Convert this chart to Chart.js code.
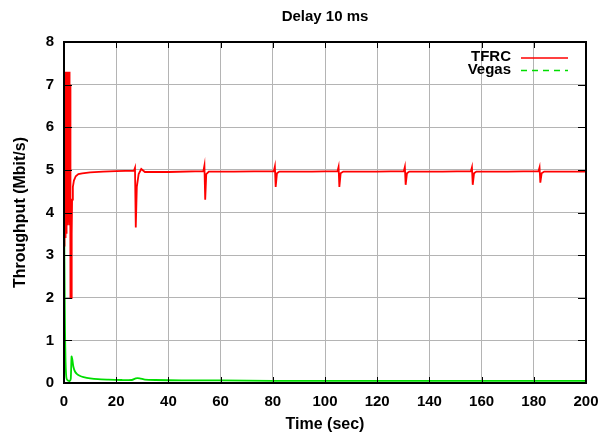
<!DOCTYPE html>
<html>
<head>
<meta charset="utf-8">
<script src="https://cdn.jsdelivr.net/npm/chart.js@4/dist/chart.umd.min.js"></script>
<style>
  body { margin: 0; background: #fff; }
  #delay_chart { display: block; }
</style>
</head>
<body>
<canvas id="delay_chart" width="604" height="436"></canvas>
<script>
// TFRC throughput samples (time in sec, Mbit/s)
const tfrcTime = [
  0.00, 0.06, 0.12, 0.18, 0.24, 0.30, 0.36, 0.42, 0.48, 0.54,
  0.60, 0.66, 0.72, 0.78, 0.84, 0.90, 0.96, 1.02, 1.08, 1.14,
  1.20, 1.26, 1.32, 1.38, 1.44, 1.50, 1.56, 1.62, 1.68, 1.74,
  1.80, 1.86, 1.92, 1.98, 2.04, 2.10, 2.16, 2.22, 2.28, 2.34,
  2.40, 2.55, 2.75, 2.95, 3.10, 3.40, 3.80, 4.50, 5.50, 7.00,
  10.0, 15.0, 20.0, 26.8, 27.2, 27.5, 27.9, 28.6, 29.6, 31.0,
  40.0, 53.4, 53.8, 54.1, 54.5, 55.5, 65.0, 80.4, 80.8, 81.1,
  81.6, 82.5, 95.0, 104.8, 105.2, 105.5, 106.0, 107.0, 120.0, 130.2,
  130.6, 130.9, 131.4, 132.3, 145.0, 155.9, 156.3, 156.6, 157.1, 158.0,
  170.0, 181.8, 182.2, 182.5, 183.0, 184.0, 200.0
];
const tfrcRate = [
  3.3, 6.9, 3.2, 7.1, 3.4, 7.2, 3.3, 7.0, 3.5, 7.3,
  3.4, 7.2, 3.6, 7.3, 3.5, 7.1, 3.7, 7.3, 3.6, 7.2,
  3.8, 7.3, 3.7, 7.2, 3.9, 7.3, 3.8, 7.1, 3.9, 7.3,
  3.8, 7.2, 4.0, 7.3, 3.9, 7.2, 3.8, 7.3, 3.7, 7.0,
  3.6, 2.0, 2.0, 3.5, 4.3, 4.6, 4.75, 4.85, 4.9, 4.92,
  4.94, 4.96, 4.97, 4.98, 5.05, 3.65, 4.6, 4.9, 5.02, 4.95,
  4.95, 4.97, 5.1, 4.3, 4.9, 4.96, 4.96, 4.97, 5.08, 4.6,
  4.92, 4.96, 4.96, 4.97, 5.07, 4.6, 4.92, 4.96, 4.96, 4.97,
  5.07, 4.65, 4.92, 4.96, 4.96, 4.97, 5.06, 4.65, 4.92, 4.96,
  4.96, 4.97, 5.06, 4.7, 4.92, 4.96, 4.96
];

// Vegas throughput samples
const vegasTime = [
  0.0, 0.1, 0.25, 0.4, 0.6, 0.8, 1.0, 1.5, 2.2, 2.6,
  2.9, 3.2, 3.6, 4.2, 5.0, 6.0, 7.5, 10.0, 13.0, 17.0,
  22.0, 26.0, 27.5, 29.0, 31.0, 35.0, 45.0, 60.0, 80.0, 100.0,
  200.0
];
const vegasRate = [
  5.0, 3.5, 2.2, 1.2, 0.5, 0.2, 0.1, 0.06, 0.05, 0.1,
  0.62, 0.55, 0.38, 0.27, 0.21, 0.17, 0.14, 0.11, 0.09, 0.08,
  0.07, 0.07, 0.11, 0.11, 0.08, 0.07, 0.06, 0.06, 0.05, 0.05,
  0.05
];

const xTicks = [0, 20, 40, 60, 80, 100, 120, 140, 160, 180, 200];
const yTicks = [0, 1, 2, 3, 4, 5, 6, 7, 8];

const seriesNames = ['TFRC', 'Vegas'];
const seriesColors = ['#ff0000', '#00dd00'];

function toPoints(xs, ys) {
  return xs.map((x, i) => ({ x: x, y: ys[i] }));
}

Chart.defaults.font.family = "'Liberation Sans', Arial, sans-serif";
Chart.defaults.font.weight = 'bold';
Chart.defaults.color = '#000';

// gnuplot-like frame, inward ticks and key in the top right corner
const framePlugin = {
  id: 'frame',
  afterDraw(chart) {
    const ctx = chart.ctx;
    const a = chart.chartArea;
    const xs = chart.scales.x, ys = chart.scales.y;
    ctx.save();
    ctx.strokeStyle = '#000';
    ctx.lineWidth = 1;
    ctx.beginPath();
    xTicks.forEach(v => {
      const px = Math.round(xs.getPixelForValue(v)) + 0.5;
      ctx.moveTo(px, a.bottom); ctx.lineTo(px, a.bottom - 6);
      ctx.moveTo(px, a.top); ctx.lineTo(px, a.top + 6);
    });
    yTicks.forEach(v => {
      const py = Math.round(ys.getPixelForValue(v)) + 0.5;
      ctx.moveTo(a.left, py); ctx.lineTo(a.left + 8, py);
      ctx.moveTo(a.right, py); ctx.lineTo(a.right - 8, py);
    });
    ctx.stroke();

    ctx.lineWidth = 2;
    ctx.strokeRect(a.left, a.top, a.right - a.left, a.bottom - a.top);

    // key
    ctx.font = "bold 15px 'Liberation Sans', Arial, sans-serif";
    ctx.textAlign = 'right';
    ctx.textBaseline = 'middle';
    ctx.fillStyle = '#000';
    seriesNames.forEach((name, i) => {
      const y = a.top + 15 + i * 12.5;
      ctx.fillText(name, a.right - 75, y);
      ctx.strokeStyle = seriesColors[i];
      ctx.lineWidth = 1.5;
      ctx.setLineDash(i === 1 ? [6, 5] : []);
      ctx.beginPath();
      ctx.moveTo(a.right - 65, y + 1);
      ctx.lineTo(a.right - 18, y + 1);
      ctx.stroke();
    });
    ctx.restore();
  }
};

new Chart(
  document.getElementById('delay_chart'),
  {
    type: 'line',
    data: {
      datasets: [
        {
          label: seriesNames[0],
          data: toPoints(tfrcTime, tfrcRate),
          borderColor: seriesColors[0],
          borderWidth: 1.8,
          pointRadius: 0,
          tension: 0
        },
        {
          label: seriesNames[1],
          data: toPoints(vegasTime, vegasRate),
          borderColor: seriesColors[1],
          borderWidth: 1.8,
          pointRadius: 0,
          tension: 0.2
        }
      ]
    },
    options: {
      responsive: false,
      animation: false,
      layout: { padding: { left: 0, right: 18, top: 0, bottom: 0 } },
      plugins: {
        legend: { display: false },
        tooltip: { enabled: false },
        title: {
          display: true,
          text: 'Delay 10 ms',
          fullSize: false,
          font: { size: 15, weight: 'bold' },
          padding: { top: 8, bottom: 16 }
        }
      },
      scales: {
        x: {
          type: 'linear',
          min: 0,
          max: 200,
          afterBuildTicks: s => { s.ticks = xTicks.map(v => ({ value: v })); },
          afterFit: s => { s.height = 53; s.paddingLeft = 0; s.paddingRight = 0; },
          ticks: { font: { size: 15 }, padding: 10, maxRotation: 0 },
          grid: { color: '#b4b4b4', lineWidth: 1, drawTicks: false },
          border: { display: false },
          title: {
            display: true,
            text: 'Time (sec)',
            font: { size: 16, weight: 'bold' },
            padding: { top: 0, bottom: 2 }
          }
        },
        y: {
          min: 0,
          max: 8,
          afterBuildTicks: s => { s.ticks = yTicks.map(v => ({ value: v })); },
          afterFit: s => { s.width = 64; },
          ticks: { font: { size: 15 }, padding: 10 },
          grid: { color: '#b4b4b4', lineWidth: 1, drawTicks: false },
          border: { display: false },
          title: {
            display: true,
            text: 'Throughput (Mbit/s)',
            font: { size: 16, weight: 'bold' },
            padding: { top: 11, bottom: 0 }
          }
        }
      }
    },
    plugins: [framePlugin]
  }
);
</script>
</body>
</html>
